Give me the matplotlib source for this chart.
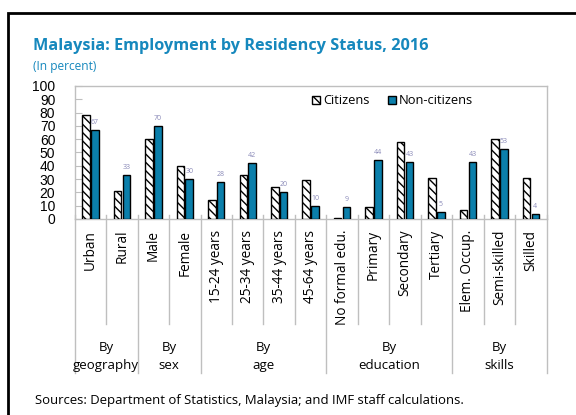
import numpy as np
import matplotlib
matplotlib.use('Agg')
import matplotlib.pyplot as plt
from matplotlib.patches import Rectangle, Patch
import matplotlib.transforms as mtransforms

plt.rcParams['font.family'] = ['Open Sans', 'DejaVu Sans']
plt.rcParams['hatch.linewidth'] = 1.0

categories = ['Urban', 'Rural', 'Male', 'Female', '15-24 years', '25-34 years',
              '35-44 years', '45-64 years', 'No formal edu.', 'Primary', 'Secondary',
              'Tertiary', 'Elem. Occup.', 'Semi-skilled', 'Skilled']
citizens = [78, 21, 60, 40, 14, 33, 24, 29, 1, 9, 58, 31, 7, 60, 31]
non_citizens = [67, 33, 70, 30, 28, 42, 20, 10, 9, 44, 43, 5, 43, 53, 4]
groups = ['By\ngeography', 'By\nsex', 'By\nage', 'By\neducation', 'By\nskills']
group_bounds = [0, 2, 4, 8, 12, 15]

blue = '#0b7fab'
title_blue = '#1688bd'
grey = '#bfbfbf'
hatch = '\\\\\\\\'

fig = plt.figure(figsize=(5.76, 4.15), dpi=100)
ax = fig.add_axes([0.1297, 0.4723, 0.8193, 0.3205])

x = np.arange(len(categories))
w = 0.24
ax.bar(x - 0.14, citizens, w, color='white', edgecolor='black', hatch=hatch,
       linewidth=1.0, label='Citizens', zorder=3)
ax.bar(x + 0.14, non_citizens, w, color=blue, edgecolor='black',
       linewidth=1.0, label='Non-citizens', zorder=3)

for xi, v in zip(x, non_citizens):
    ax.text(xi + 0.14, v + 3, str(v), ha='center', va='bottom', fontsize=5,
            color='#8a8ab8')

ax.set_xlim(-0.5, len(categories) - 0.5)
ax.set_ylim(0, 100)
ax.set_yticks(range(0, 101, 10))
ax.tick_params(axis='y', direction='in', length=5, color=grey, pad=14,
               labelsize=10)
for lab in ax.get_yticklabels():
    lab.set_family(['Liberation Sans Narrow', 'Liberation Sans'])
ax.set_xticks([])
for s in ax.spines.values():
    s.set_color(grey)
    s.set_linewidth(1.0)

# category labels and separators below the axis
trans = mtransforms.blended_transform_factory(ax.transData, ax.transAxes)
for xi, name in zip(x, categories):
    ax.text(xi, -0.08, name, rotation=90, ha='center', va='top', fontsize=9.8,
            transform=trans)
for b in range(len(categories) + 1):
    bottom = -1.16 if b in group_bounds else -0.79
    ax.plot([b - 0.5, b - 0.5], [0.03, bottom], color=grey, lw=1.0,
            transform=trans, clip_on=False)
for i, g in enumerate(groups):
    c = (group_bounds[i] + group_bounds[i + 1] - 1) / 2
    ax.text(c, -0.92, g, ha='center', va='top', fontsize=9.5,
            linespacing=1.45, transform=trans)

handles = [Patch(facecolor='white', edgecolor='black', hatch=hatch),
           Patch(facecolor=blue, edgecolor='black')]
ax.legend(handles, ['Citizens', 'Non-citizens'], loc='upper right', ncol=2,
          frameon=False, fontsize=9.3, handlelength=0.6, handleheight=0.6,
          handletextpad=0.25, columnspacing=1.4, borderaxespad=0,
          bbox_to_anchor=(0.855, 0.975))

fig.text(0.057, 0.89, 'Malaysia: Employment by Residency Status, 2016',
         fontsize=11.7, fontweight='bold', color=title_blue, va='center')
fig.text(0.057, 0.84, '(In percent)', fontsize=8.6, color=title_blue,
         va='center')
fig.text(0.061, 0.034, 'Sources: Department of Statistics, Malaysia; and IMF staff calculations.',
         fontsize=9.45, va='center')

fig.patches.append(Rectangle((0.0139, -0.2), 1.2, 0.9687 + 0.2,
                             transform=fig.transFigure, fill=False,
                             edgecolor='black', linewidth=2))

fig.savefig('out.png', dpi=100)
